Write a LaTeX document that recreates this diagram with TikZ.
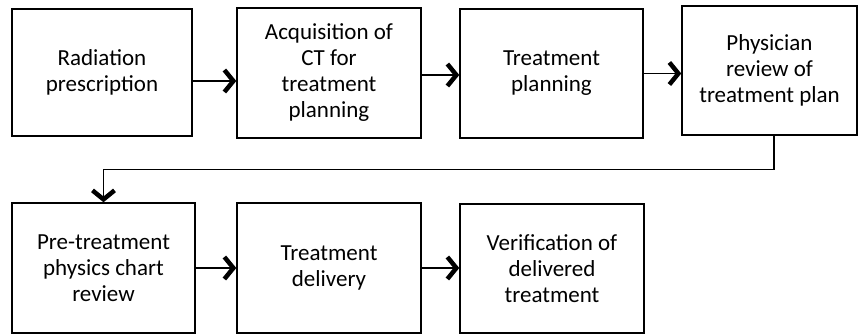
\documentclass[tikz,border=0pt]{standalone}
\usepackage{fontspec}
\setmainfont{Carlito}
\usetikzlibrary{arrows.meta}
\usetikzlibrary{positioning}
\usetikzlibrary{calc}

\tikzset{
  stage/.style={draw, line width=1.4pt, align=center, inner sep=0pt,
    font=\fontsize{23}{26}\selectfont},
  flow/.style={line width=1.4pt,
    -{Straight Barb[length=9pt,width=22pt,line width=4.5pt]}}
}

\begin{document}
\begin{tikzpicture}[x=1pt, y=-1pt]
 \useasboundingbox (0,0) rectangle (858,335);

 %level 1
 \def\dy{0}
 \foreach \i/\x/\y/\w/\h/\name in {
     1/102/72.5/180/127/{Radiation\\prescription},
     2/329/73/184/130/{Acquisition of\\CT for\\treatment\\planning},
     3/551.5/73.5/183/129/{Treatment\\planning},
     4/769.5/70.5/175/129/{Physician\\review of\\treatment plan}} {
         \node[stage, minimum width=\w, minimum height=\h] (b\i) at (\x, \y + \dy) {\name};
 }

 %level 2
 \def\dy{0}
 \foreach \i/\x/\y/\w/\h/\name in {
     5/103.5/268/183/130/{Pre-treatment\\physics chart\\review},
     6/329/268/184/130/{Treatment\\delivery},
     7/552/268.5/184/129/{Verification of\\delivered\\treatment}} {
         \node[stage, minimum width=\w, minimum height=\h] (b\i) at (\x, \y + \dy) {\name};
 }

 %arrows
 \draw[flow] ([yshift=-8.5]b1.east) -- ([yshift=-8]b2.west);
 \draw[flow] ([yshift=-2]b2.east) -- ([yshift=-1.5]b3.west);
 \draw[flow] (b3.east) -- (b3.east -| b4.west);
 \draw[flow] ([xshift=4.5]b4.south) -- ++(0,34) -| (b5.north);
 \draw[flow] (b5.east) -- (b6.west);
 \draw[flow] (b6.east) -- (b6.east -| b7.west);

\end{tikzpicture}
\end{document}
